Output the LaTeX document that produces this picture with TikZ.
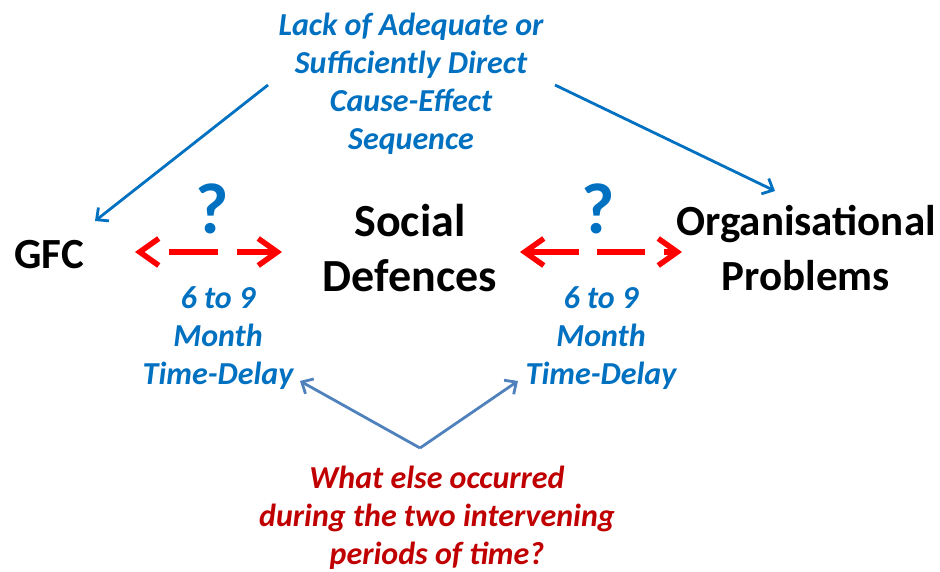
\documentclass[tikz,border=0pt]{standalone}
\usepackage{fontspec}
\setmainfont{Carlito}
\usetikzlibrary{arrows.meta}
\definecolor{txtblue}{RGB}{0,112,192}
\definecolor{steel}{RGB}{79,129,189}
\definecolor{darkred}{RGB}{192,0,0}
\definecolor{brightred}{RGB}{255,0,0}
\begin{document}
\begin{tikzpicture}[x=1pt,y=-1pt,
  big/.style={font=\fontsize{43}{55}\selectfont\bfseries, align=center, inner sep=0pt},
  bigger/.style={big, font=\fontsize{46}{55}\selectfont\bfseries},
  note/.style={font=\fontsize{32}{38}\selectfont\bfseries\itshape, align=center, text=txtblue, inner sep=0pt},
  query/.style={note, text=darkred},
  qmark/.style={font=\fontsize{72}{80}\selectfont\bfseries, text=txtblue, inner sep=0pt},
  linkarrow/.style={draw=txtblue, line width=2.8pt, -{Straight Barb[length=9pt,width=17pt]}},
  softarrow/.style={linkarrow, draw=steel},
  delayarrow/.style={draw=brightred, line width=5.5pt, {Straight Barb[length=19pt,width=27pt]}-{Straight Barb[length=19pt,width=27pt]}}
]
\useasboundingbox (0,0) rectangle (940,572);

% main labels
\node[big] (gfc) at (49,255) {GFC};
\node[bigger] (social) at (410,248) {Social\\Defences};
\node[big] (org) at (806,248) {Organisational\\Problems};

% the missing link note and its arrows
\node[note] (link) at (411,84) {Lack of Adequate or\\Sufficiently Direct\\Cause-Effect\\Sequence};
\coordinate (linkL) at (268,85);
\coordinate (linkR) at (555,85);
\coordinate (gfcTip) at (95,221);
\coordinate (orgTip) at (775,191);
\draw[linkarrow] (linkL) -- (gfcTip);
\draw[linkarrow] (linkR) -- (orgTip);

% uncertain delays
\node[qmark] (q1) at (212,209) {?};
\node[qmark] (q2) at (598,209) {?};
\coordinate (d1a) at (135,252);
\coordinate (d1b) at (282,252);
\coordinate (d2a) at (520,252);
\coordinate (d2b) at (682,252);
\draw[delayarrow, dash pattern=on 0pt off 27pt on 48pt off 19pt on 80pt] (d1a) -- (d1b);
\draw[delayarrow, dash pattern=on 51pt off 18pt on 48pt off 19pt on 80pt] (d2a) -- (d2b);

\node[note] (delay1) at (218,338) {6 to 9\\Month\\Time-Delay};
\node[note] (delay2) at (601,338) {6 to 9\\Month\\Time-Delay};

% the open question
\node[query] (ask) at (437,518) {What else occurred\\during the two intervening\\periods of time?};
\coordinate (apex) at (420,448);
\coordinate (delay1Tip) at (300,381);
\coordinate (delay2Tip) at (518,381);
\draw[softarrow] (apex) -- (delay1Tip);
\draw[softarrow] (apex) -- (delay2Tip);
\end{tikzpicture}
\end{document}
